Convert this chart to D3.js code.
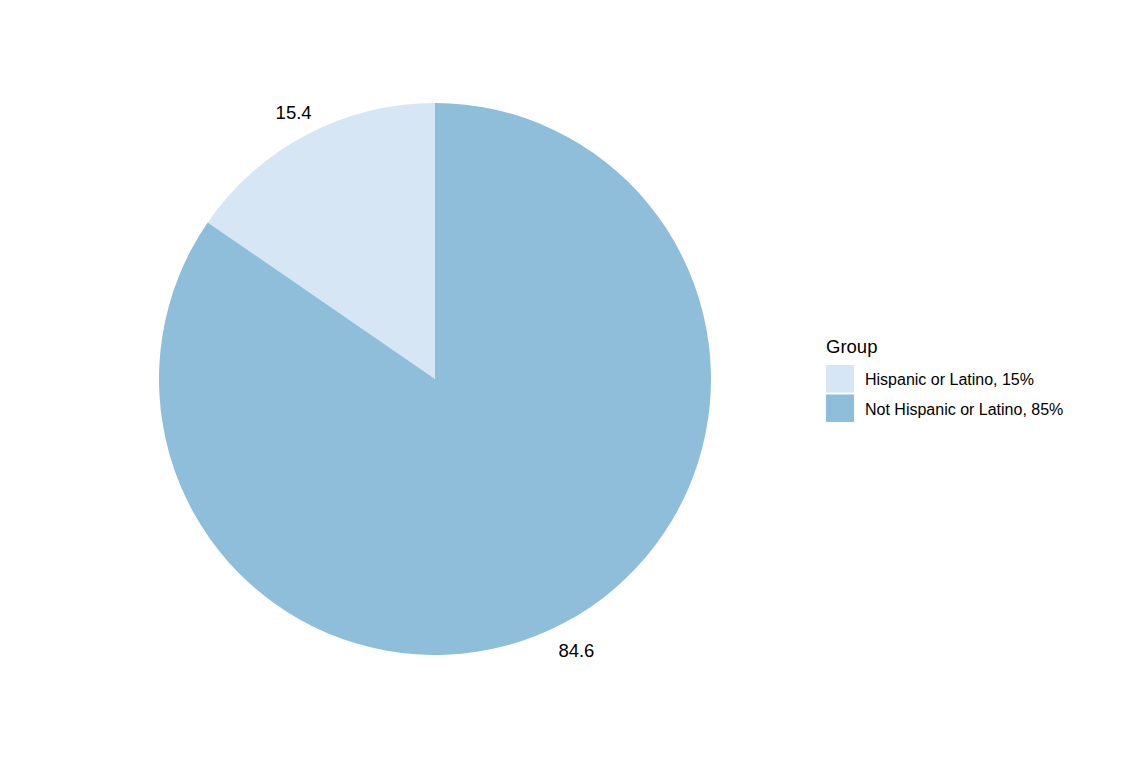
<!DOCTYPE html>
<html>
<head>
<meta charset="utf-8">
<script src="https://cdn.jsdelivr.net/npm/d3@7"></script>
<style>
  body { margin: 0; background: #ffffff; }
  text { font-family: "Liberation Sans", Arial, sans-serif; fill: #000000; }
</style>
</head>
<body>
<svg id="canvas" width="1123" height="760"></svg>
<script>
var groups = ['Hispanic or Latino', 'Not Hispanic or Latino'];
var values = [15.4, 84.6];
var legendLabels = ['Hispanic or Latino, 15%', 'Not Hispanic or Latino, 85%'];
var colors = ['#d6e6f4', '#8fbedb'];

(function() {
    var svg = d3.select('#canvas');
    var cx = 435, cy = 379, radius = 276, labelRadius = 304;

    var data = groups.map(function(g, i) {
        return { group: g, value: values[i], color: colors[i] };
    });

    // first slice runs counter-clockwise from 12 o'clock, like coord_polar
    var pie = d3.pie()
        .sort(null)
        .value(function(d) { return d.value; })
        .startAngle(0)
        .endAngle(-2 * Math.PI);

    var arc = d3.arc().innerRadius(0).outerRadius(radius);
    var labelArc = d3.arc().innerRadius(labelRadius).outerRadius(labelRadius);

    var g = svg.append('g')
        .attr('transform', 'translate(' + cx + ',' + cy + ')');

    var arcs = pie(data);

    g.selectAll('path')
        .data(arcs)
        .enter().append('path')
        .attr('d', arc)
        .attr('fill', function(d) { return d.data.color; })
        .attr('stroke', 'none');

    g.selectAll('text.lbl')
        .data(arcs)
        .enter().append('text')
        .attr('class', 'lbl')
        .attr('transform', function(d) { return 'translate(' + labelArc.centroid(d) + ')'; })
        .attr('text-anchor', 'middle')
        .attr('dy', '0.5em')
        .style('font-size', '18.5px')
        .text(function(d) { return d.data.value.toFixed(1); });

    // legend
    var legend = svg.append('g').attr('transform', 'translate(826,0)');
    legend.append('text')
        .attr('x', 0)
        .attr('y', 353)
        .style('font-size', '18.5px')
        .text('Group');

    var item = legend.selectAll('g.item')
        .data(legendLabels)
        .enter().append('g')
        .attr('class', 'item')
        .attr('transform', function(d, i) { return 'translate(0,' + (365 + i * 29.5) + ')'; });

    item.append('rect')
        .attr('width', 28)
        .attr('height', 27.5)
        .attr('fill', function(d, i) { return colors[i]; });

    item.append('text')
        .attr('x', 39)
        .attr('y', 14)
        .attr('dy', '0.4em')
        .style('font-size', '16px')
        .text(function(d) { return d; });
})();
</script>
</body>
</html>
